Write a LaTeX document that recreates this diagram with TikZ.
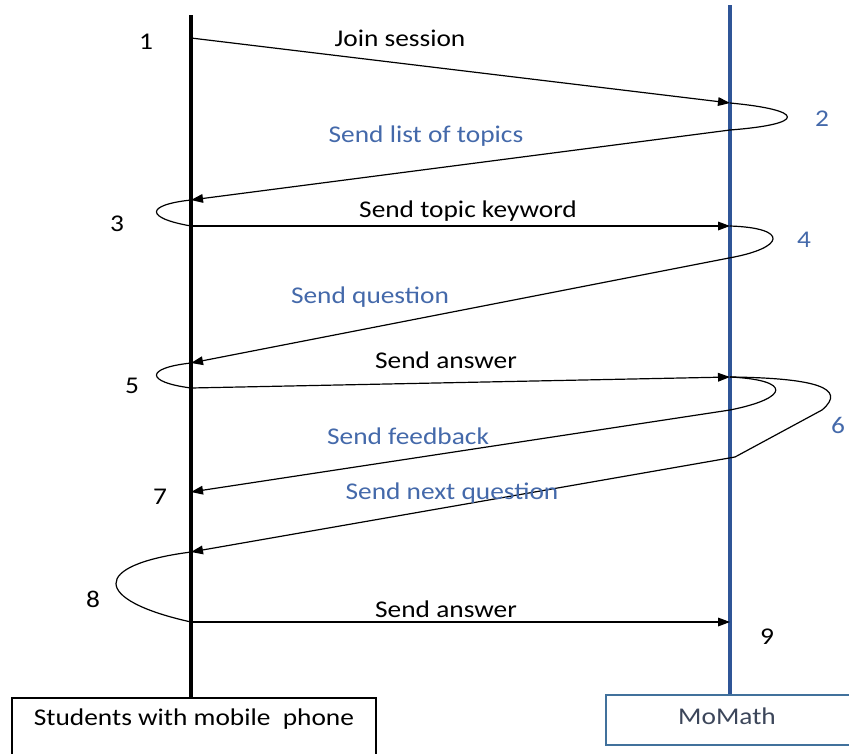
\documentclass[tikz,border=0pt]{standalone}
\usepackage{fontspec}
\setmainfont{Carlito}[FakeStretch=1.14]
\usetikzlibrary{arrows.meta}
\definecolor{lineblue}{RGB}{47,85,151}
\definecolor{txtblue}{RGB}{68,105,170}
\definecolor{boxblue}{RGB}{65,113,156}
\definecolor{slate}{RGB}{60,70,90}
\begin{document}
\begin{tikzpicture}[x=0.75pt,y=-0.75pt,
  msg/.style={line width=0.9pt,-{Triangle[length=9pt,width=6.5pt]}},
  curveln/.style={line width=0.9pt},
  lbl/.style={font=\fontsize{18}{21}\selectfont,inner sep=0pt},
  bluelbl/.style={lbl,text=txtblue},
  num/.style={lbl},
  bluenum/.style={lbl,text=txtblue}]
\useasboundingbox (0,0) rectangle (849,753);

% lifelines
\coordinate (Ltop) at (191,15);
\coordinate (Lbot) at (191,698);
\coordinate (Rtop) at (730,5);
\coordinate (Rbot) at (730,695);
\draw[line width=3pt] (Ltop) -- (Lbot);
\draw[line width=3pt,lineblue] (Rtop) -- (Rbot);

% boxes
\draw[line width=0.9pt] (12,770) -- (12,698) -- (376,698) -- (376,770);
\node[lbl] (stud) at (194,719) {Students with mobile\ \ phone};
\draw[line width=0.9pt,boxblue] (870,695) -- (606,695) -- (606,745) -- (870,745);
\node[lbl,text=slate] (momath) at (727,716) {MoMath};

% message points
\coordinate (a1) at (191,38);
\coordinate (b1) at (730,103);
\coordinate (b2) at (730,130);
\coordinate (a2) at (191,200);
\coordinate (a3) at (191,226);
\coordinate (b3) at (730,226);
\coordinate (b4) at (729,258);
\coordinate (a4) at (191,363);
\coordinate (a5) at (191,388);
\coordinate (b5) at (730,377);
\coordinate (b6) at (730,410);
\coordinate (a6) at (191,492);
\coordinate (b7) at (735,457);
\coordinate (a7) at (191,552);
\coordinate (a8) at (191,622);
\coordinate (b8) at (730,622);

% messages
\draw[msg] (a1) -- (b1);
\draw[curveln] (b1) .. controls (805,110) and (808,124) .. (b2);
\draw[msg] (b2) -- (a2);
\draw[curveln] (a2) .. controls (145,205) and (145,218) .. (a3);
\draw[msg] (a3) -- (b3);
\draw[curveln] (b3) .. controls (790,228) and (785,248) .. (b4);
\draw[msg] (b4) -- (a4);
\draw[curveln] (a4) .. controls (145,368) and (145,382) .. (a5);
\draw[msg] (a5) -- (b5);
\draw[curveln] (b5) .. controls (792,380) and (790,398) .. (b6);
\draw[msg] (b6) -- (a6);
\draw[curveln] (b5) .. controls (815,378) and (848,388) .. (822,410) -- (b7);
\draw[msg] (b7) -- (a7);
\draw[curveln] (a7) .. controls (90,565) and (92,600) .. (a8);
\draw[msg] (a8) -- (b8);

% labels
\node[lbl] (m1) at (400,38) {Join session};
\node[bluelbl] (m2) at (426,136) {Send list of topics};
\node[lbl] (m3) at (468,211) {Send topic keyword};
\node[bluelbl] (m4) at (370,297) {Send question};
\node[lbl] (m5) at (446,360) {Send answer};
\node[bluelbl] (m6) at (408,436) {Send feedback};
\node[bluelbl] (m7) at (452,493) {Send next question};
\node[lbl] (m8) at (446,609) {Send answer};

% numbers
\node[num] (n1) at (146,42) {1};
\node[bluenum] (n2) at (822,119) {2};
\node[num] (n3) at (117,224) {3};
\node[bluenum] (n4) at (804,240) {4};
\node[num] (n5) at (132,386) {5};
\node[bluenum] (n6) at (838,425) {6};
\node[num] (n7) at (160,497) {7};
\node[num] (n8) at (93,599) {8};
\node[num] (n9) at (767,637) {9};
\end{tikzpicture}
\end{document}
